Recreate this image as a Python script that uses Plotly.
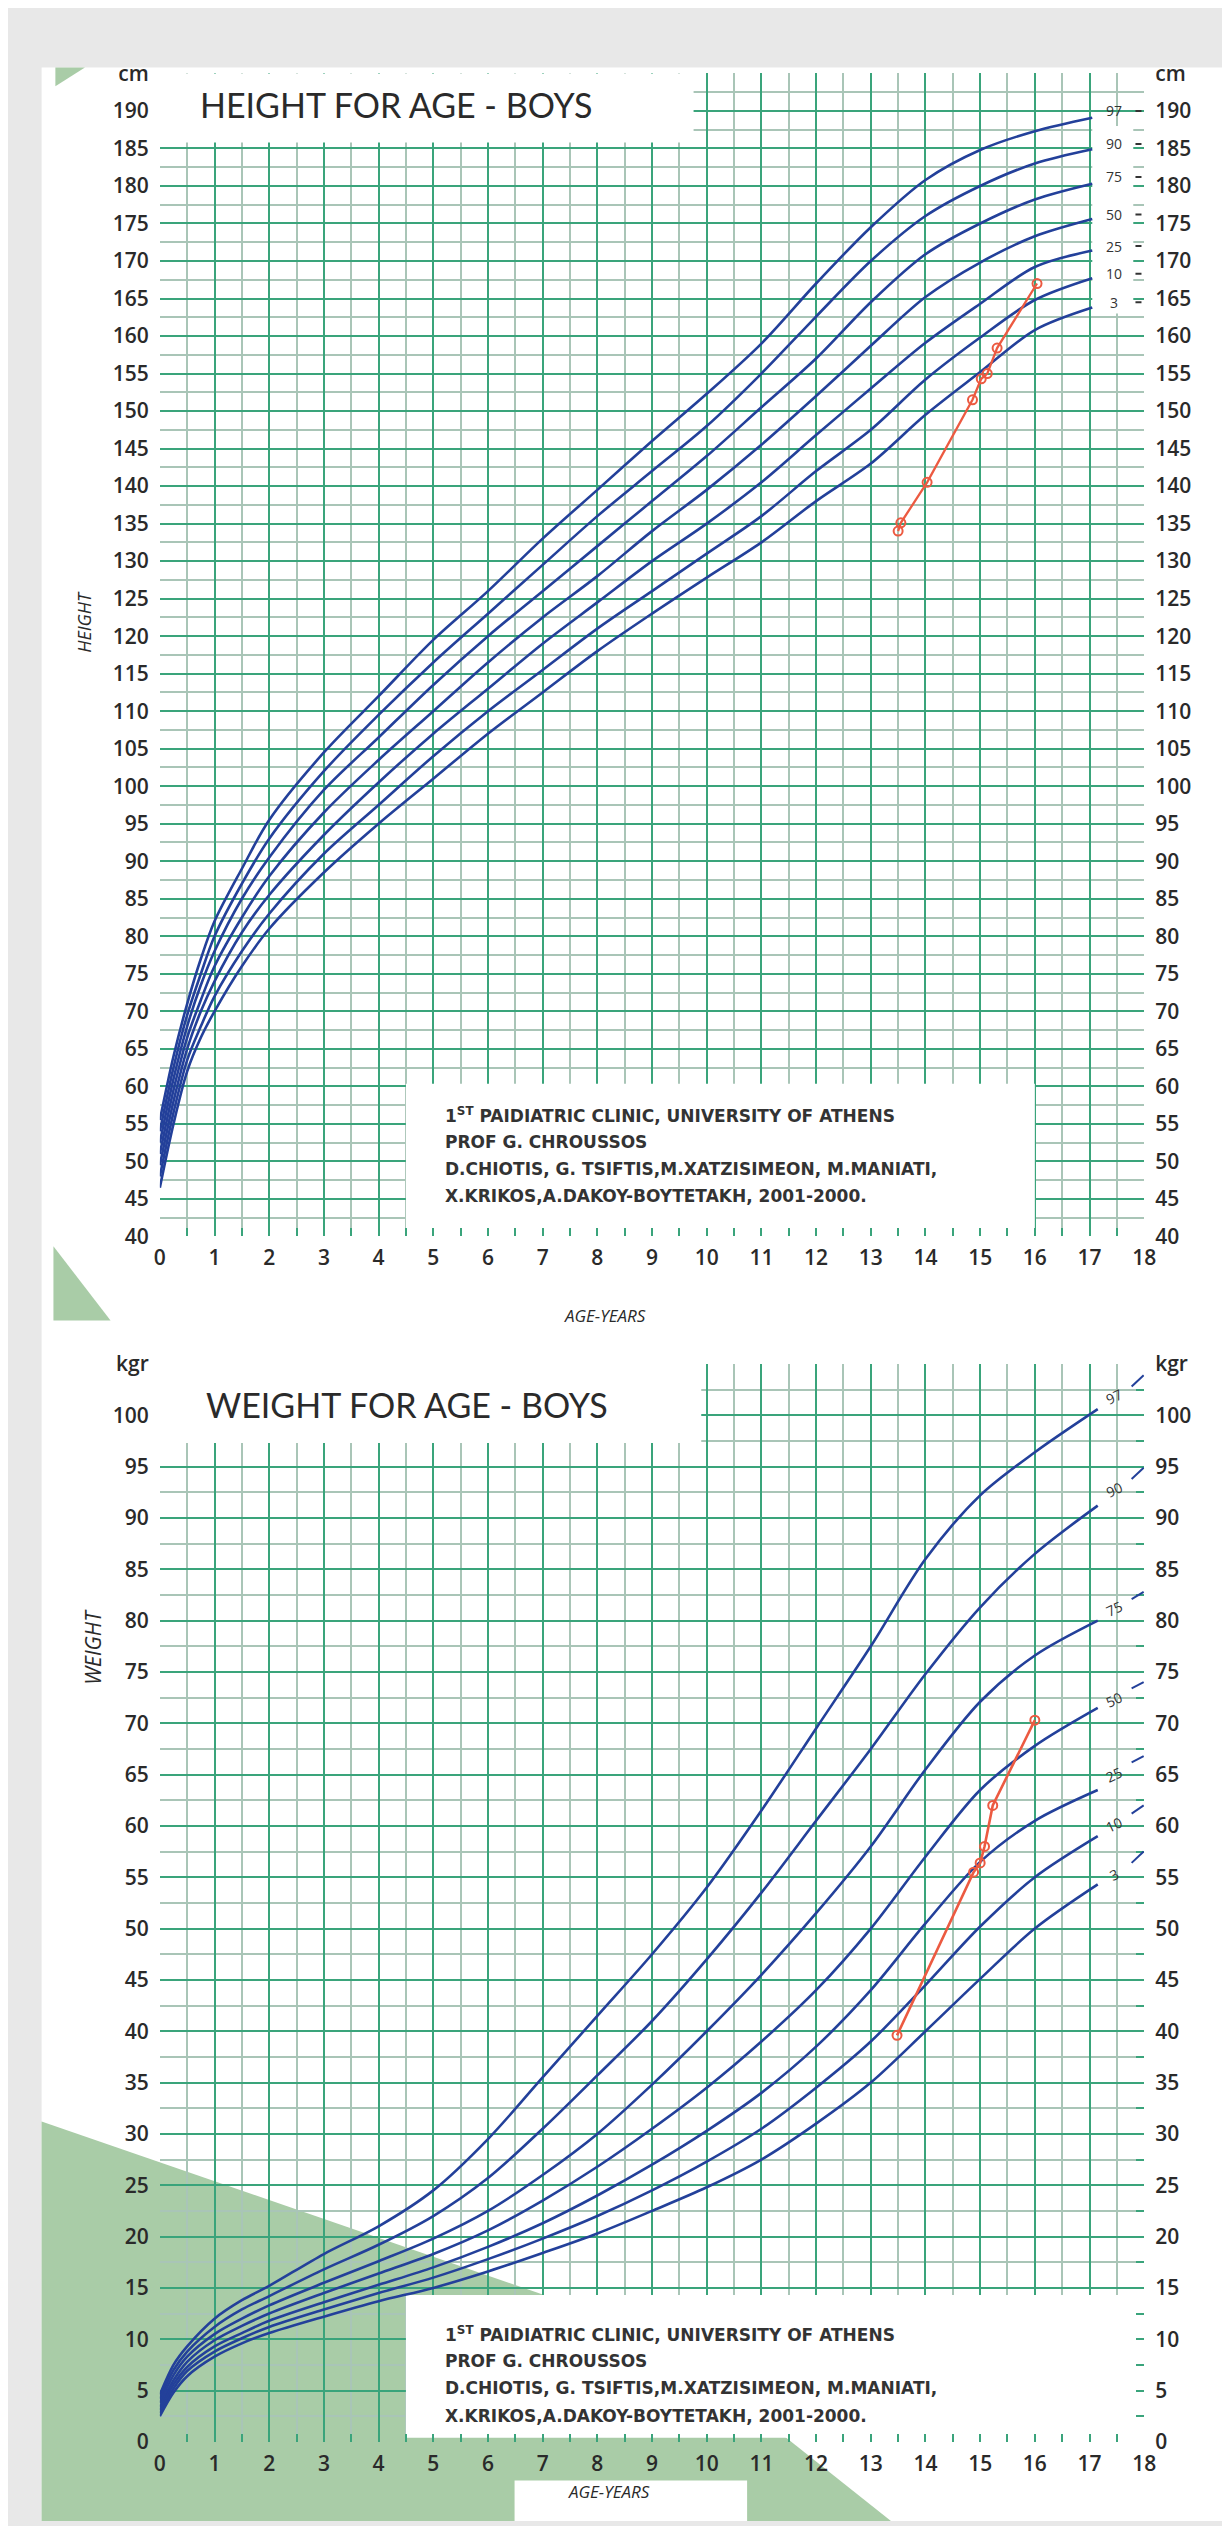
import plotly.graph_objects as go

W, H = 1230, 2526

# ---------------- DATA ----------------
age_ticks = list(range(0, 19))

# Height-for-age percentiles (cm)
age_h = [0, 0.25, 0.5, 0.75, 1, 1.5, 2, 3, 4, 5, 6, 7, 8, 9, 10, 11, 12, 13, 14, 15, 16, 17.05]
h_p97 = [55.5, 64.0, 71.0, 77.0, 82.0, 89.0, 95.5, 104.5, 112.0, 119.5, 126.0, 133.0, 139.5, 146.0, 152.3, 159.0, 167.0, 174.5, 180.8, 184.8, 187.3, 189.1]
h_p90 = [54.0, 62.5, 69.5, 75.0, 80.0, 87.0, 93.0, 102.0, 109.5, 116.5, 123.0, 129.5, 136.0, 142.0, 148.0, 155.0, 162.6, 170.0, 176.0, 180.0, 183.0, 184.9]
h_p75 = [52.5, 61.0, 68.0, 73.5, 78.0, 85.0, 90.5, 99.5, 106.5, 113.5, 120.0, 126.0, 132.0, 138.0, 144.0, 150.5, 157.0, 164.5, 170.9, 175.0, 178.2, 180.3]
h_p50 = [51.0, 59.5, 66.5, 71.5, 76.0, 82.5, 88.0, 96.5, 103.5, 110.0, 116.5, 122.5, 128.0, 134.0, 139.5, 145.5, 152.0, 158.7, 165.2, 169.8, 173.3, 175.6]
h_p25 = [49.5, 58.0, 65.0, 70.0, 74.0, 80.5, 85.5, 93.5, 100.5, 107.0, 113.0, 119.0, 124.5, 130.0, 135.0, 140.5, 146.8, 153.0, 159.1, 164.3, 169.2, 171.4]
h_p10 = [48.0, 56.5, 63.5, 68.0, 72.0, 78.0, 83.0, 91.0, 97.5, 104.0, 110.0, 115.5, 121.0, 126.0, 131.0, 136.0, 142.0, 147.5, 154.2, 159.8, 164.8, 167.7]
h_p3 = [46.5, 55.0, 62.0, 66.5, 70.0, 76.0, 81.0, 88.5, 95.0, 101.0, 107.0, 112.5, 118.0, 123.0, 127.8, 132.5, 138.0, 143.0, 149.5, 155.2, 160.8, 163.8]

# Weight-for-age percentiles (kg)
age_w = [0, 0.25, 0.5, 1, 1.5, 2, 3, 4, 5, 6, 7, 8, 9, 10, 11, 12, 13, 14, 15, 16, 17.15]
w_p97 = [4.6, 7.5, 9.3, 12.0, 13.8, 15.2, 18.3, 21.0, 24.5, 29.5, 35.5, 41.5, 47.5, 54.0, 61.5, 69.5, 77.5, 86.0, 92.2, 96.4, 100.6]
w_p90 = [4.2, 7.0, 8.8, 11.2, 12.9, 14.2, 16.8, 19.2, 22.0, 25.7, 30.5, 35.7, 41.0, 47.0, 53.5, 60.5, 67.5, 74.8, 81.3, 86.5, 91.2]
w_p75 = [3.8, 6.5, 8.3, 10.5, 12.0, 13.3, 15.5, 17.6, 19.8, 22.5, 26.0, 30.0, 34.8, 40.0, 45.5, 51.5, 58.0, 65.5, 72.1, 76.6, 80.0]
w_p50 = [3.4, 6.0, 7.8, 9.9, 11.3, 12.5, 14.5, 16.4, 18.3, 20.6, 23.5, 26.8, 30.5, 34.5, 39.0, 44.0, 50.0, 57.0, 63.5, 67.8, 71.5]
w_p25 = [3.1, 5.6, 7.3, 9.3, 10.6, 11.8, 13.6, 15.3, 17.0, 19.0, 21.3, 24.0, 27.0, 30.3, 34.0, 38.5, 44.0, 50.5, 56.5, 60.5, 63.5]
w_p10 = [2.8, 5.2, 6.9, 8.8, 10.1, 11.2, 12.9, 14.5, 16.0, 17.8, 19.8, 22.0, 24.5, 27.3, 30.5, 34.5, 39.0, 44.5, 50.2, 55.0, 59.0]
w_p3 = [2.5, 4.8, 6.4, 8.3, 9.6, 10.6, 12.2, 13.7, 15.0, 16.6, 18.4, 20.3, 22.5, 24.8, 27.5, 31.0, 35.0, 40.0, 45.1, 50.0, 54.3]

pct_labels = ["97", "90", "75", "50", "25", "10", "3"]

# Patient measurements
patient_age_h = [13.5, 13.55, 14.03, 14.86, 15.02, 15.13, 15.31, 16.04]
patient_height = [134.0, 135.1, 140.5, 151.5, 154.3, 155.0, 158.4, 167.0]
patient_age_w = [13.48, 14.88, 15.0, 15.08, 15.23, 16.0]
patient_weight = [39.6, 55.5, 56.4, 58.0, 62.0, 70.3]

# Tick labels
height_tickvals = list(range(40, 196, 5))
height_ticktext = [str(v) for v in range(40, 191, 5)] + ["cm"]
weight_tickvals = list(range(0, 106, 5))
weight_ticktext = [str(v) for v in range(0, 101, 5)] + ["kgr"]

# Percentile label placement
h_label_age = 17.45
h_label_y = [190.0, 185.6, 181.2, 176.2, 172.0, 168.3, 164.5]
w_label_age = 17.45
w_label_y = [101.8, 92.8, 81.2, 72.3, 65.0, 60.1, 55.3]
w_dash_age = [17.77, 17.99]
w_dash_start = [102.8, 93.8, 82.1, 73.4, 66.2, 61.2, 56.4]
w_dash_end = [103.9, 94.9, 82.8, 74.0, 66.8, 62.0, 57.5]

credit_lines = [
    "1<sup>ST</sup> PAIDIATRIC CLINIC, UNIVERSITY OF ATHENS",
    "PROF G. CHROUSSOS",
    "D.CHIOTIS, G. TSIFTIS,M.XATZISIMEON, M.MANIATI,",
    "X.KRIKOS,A.DAKOY-BOYTETAKH, 2001-2000.",
]

# ---------------- STYLE ----------------
GRID_MAJOR = "#3aa47b"
GRID_MINOR = "#a9c5b7"
CURVE = "#23409a"
PATIENT = "#ec5a41"
GREEN_BG = "#a9cca7"
TXT = "#2a2a2a"


def PX(x):
    return x / W


def PY(y):
    return 1 - y / H


fig = go.Figure()

h_series = [h_p97, h_p90, h_p75, h_p50, h_p25, h_p10, h_p3]
w_series = [w_p97, w_p90, w_p75, w_p50, w_p25, w_p10, w_p3]

for name, ys in zip(pct_labels, h_series):
    fig.add_trace(go.Scatter(x=age_h, y=ys, mode="lines", name="P" + name,
                             line=dict(color=CURVE, width=2.6, shape="spline", smoothing=0.9),
                             xaxis="x", yaxis="y", showlegend=False, hoverinfo="skip"))
fig.add_trace(go.Scatter(x=patient_age_h, y=patient_height, mode="lines+markers",
                         line=dict(color=PATIENT, width=2.3),
                         marker=dict(symbol="circle-open", size=9, color=PATIENT, line=dict(width=2)),
                         xaxis="x", yaxis="y", showlegend=False, hoverinfo="skip"))
fig.add_trace(go.Scatter(x=[None], y=[None], xaxis="x", yaxis="y2", showlegend=False, hoverinfo="skip"))

for name, ys in zip(pct_labels, w_series):
    fig.add_trace(go.Scatter(x=age_w, y=ys, mode="lines", name="W" + name,
                             line=dict(color=CURVE, width=2.6, shape="spline", smoothing=0.9),
                             xaxis="x2", yaxis="y3", showlegend=False, hoverinfo="skip"))
fig.add_trace(go.Scatter(x=patient_age_w, y=patient_weight, mode="lines+markers",
                         line=dict(color=PATIENT, width=2.6),
                         marker=dict(symbol="circle-open", size=9, color=PATIENT, line=dict(width=2)),
                         xaxis="x2", yaxis="y3", showlegend=False, hoverinfo="skip"))
fig.add_trace(go.Scatter(x=[None], y=[None], xaxis="x2", yaxis="y4", showlegend=False, hoverinfo="skip"))

tickfont = dict(family="Open Sans", size=21, color=TXT, weight=600)

xdom = [PX(148), PX(1147)]
ydom_top = [PY(1227), PY(51)]
ydom_bot = [PY(2446), PY(1356)]


def xaxis_cfg(anchor):
    return dict(domain=xdom, range=[0, 18], anchor=anchor, tickmode="array", tickvals=age_ticks,
                showgrid=True, gridcolor=GRID_MAJOR, gridwidth=2, zeroline=False, showline=False,
                ticks="inside", ticklen=8, tickwidth=1.5, tickcolor=GRID_MAJOR,
                minor=dict(dtick=0.5, tick0=0, showgrid=True, gridcolor=GRID_MINOR, gridwidth=2,
                           ticks="inside", ticklen=8, tickwidth=1.5, tickcolor=GRID_MAJOR),
                tickfont=tickfont, ticklabelstandoff=7, fixedrange=True)


def yaxis_cfg(dom, rng, vals, text, anchor):
    return dict(domain=dom, range=rng, anchor=anchor, tickmode="array", tickvals=vals, ticktext=text,
                showgrid=True, gridcolor=GRID_MAJOR, gridwidth=2, zeroline=False, showline=False,
                ticks="", minor=dict(dtick=2.5, tick0=0, showgrid=True, gridcolor=GRID_MINOR, gridwidth=2),
                tickfont=tickfont, ticklabelstandoff=10, fixedrange=True)


def yaxis_right(over, vals, text, anchor, ticks):
    d = dict(overlaying=over, matches=over, side="right", anchor=anchor, tickmode="array",
             tickvals=vals, ticktext=text, showgrid=False, zeroline=False, showline=False,
             tickfont=tickfont, ticklabelstandoff=10, fixedrange=True)
    if ticks:
        d.update(ticks="inside", ticklen=8, tickwidth=1.5, tickcolor=GRID_MAJOR,
                 minor=dict(dtick=2.5, tick0=0, ticks="inside", ticklen=8, tickwidth=1.5,
                            tickcolor=GRID_MAJOR, showgrid=False))
    else:
        d.update(ticks="")
    return d


fig.update_layout(
    width=W, height=H, margin=dict(l=0, r=0, t=0, b=0),
    paper_bgcolor="#e8e8e8", plot_bgcolor="rgba(0,0,0,0)",
    showlegend=False,
    xaxis=xaxis_cfg("y"),
    yaxis=yaxis_cfg(ydom_top, [40, 195], height_tickvals, height_ticktext, "x"),
    yaxis2=yaxis_right("y", height_tickvals, height_ticktext, "x", False),
    xaxis2=xaxis_cfg("y3"),
    yaxis3=yaxis_cfg(ydom_bot, [0, 105], weight_tickvals, weight_ticktext, "x2"),
    yaxis4=yaxis_right("y3", weight_tickvals, weight_ticktext, "x2", True),
)

shapes = []
# white page panel
shapes.append(dict(type="rect", xref="paper", yref="paper", x0=PX(28), x1=1, y0=0, y1=PY(45),
                   fillcolor="white", line=dict(width=0), layer="below"))
# decorative green triangles
shapes.append(dict(type="path", xref="paper", yref="paper",
                   path=f"M {PX(42)} {PY(45)} L {PX(72)} {PY(45)} L {PX(42)} {PY(64)} Z",
                   fillcolor=GREEN_BG, line=dict(width=0), layer="below"))
shapes.append(dict(type="path", xref="paper", yref="paper",
                   path=f"M {PX(40)} {PY(1237)} L {PX(40)} {PY(1312)} L {PX(98)} {PY(1312)} Z",
                   fillcolor=GREEN_BG, line=dict(width=0), layer="below"))
shapes.append(dict(type="path", xref="paper", yref="paper",
                   path=(f"M {PX(28)} {PY(2122)} L {PX(650)} {PY(2336)} L {PX(890)} {PY(2526)} "
                         f"L {PX(28)} {PY(2526)} Z"),
                   fillcolor=GREEN_BG, line=dict(width=0), layer="below"))
# white label box under bottom axis title
shapes.append(dict(type="rect", xref="paper", yref="paper", x0=PX(508), x1=PX(744), y0=0, y1=PY(2485),
                   fillcolor="white", line=dict(width=0), layer="below"))

# white boxes over the grid (between grid and curves)
for xr, yr, box in [("x", "y", (-0.5, 9.76, 185.8, 200)),
                    ("x", "y", (4.5, 16.0, 40.6, 60.35)),
                    ("x", "y", (17.05, 17.8, 163.0, 188.0)),
                    ("x2", "y3", (-0.5, 9.9, 97.3, 110)),
                    ("x2", "y3", (4.5, 17.9, 0.4, 14.3))]:
    shapes.append(dict(type="rect", xref=xr, yref=yr, x0=box[0], x1=box[1], y0=box[2], y1=box[3],
                       fillcolor="white", line=dict(width=0), layer="between"))

# percentile ticks (height) and curve extensions (weight)
for yv in h_label_y:
    shapes.append(dict(type="line", xref="x", yref="y", x0=17.84, x1=17.95, y0=yv, y1=yv,
                       line=dict(color="#333333", width=2)))
for ys, ye in zip(w_dash_start, w_dash_end):
    shapes.append(dict(type="line", xref="x2", yref="y3", x0=w_dash_age[0], x1=w_dash_age[1], y0=ys, y1=ye,
                       line=dict(color=CURVE, width=2)))

fig.update_layout(shapes=shapes)

ann = []
for lab, yv in zip(pct_labels, h_label_y):
    ann.append(dict(x=h_label_age, y=yv, xref="x", yref="y", text=lab, showarrow=False,
                    font=dict(family="Open Sans", size=14, color="#333")))
for lab, yv in zip(pct_labels, w_label_y):
    ann.append(dict(x=w_label_age, y=yv, xref="x2", yref="y3", text=lab, showarrow=False, textangle=-25,
                    font=dict(family="Open Sans", size=14, color="#333")))

# titles
ann.append(dict(x=PX(187), y=PY(82), xref="paper", yref="paper", xanchor="left", yanchor="middle",
                text="HEIGHT FOR AGE - BOYS", showarrow=False,
                font=dict(family="Lato", size=34, color=TXT)))
ann.append(dict(x=PX(193), y=PY(1397), xref="paper", yref="paper", xanchor="left", yanchor="middle",
                text="WEIGHT FOR AGE - BOYS", showarrow=False,
                font=dict(family="Lato", size=34, color=TXT)))

# axis titles
ital = dict(family="Open Sans", color=TXT, style="italic")
ann.append(dict(x=PX(56), y=PY(572), xref="paper", yref="paper", text="HEIGHT", textangle=-90,
                showarrow=False, font=dict(ital, size=18)))
ann.append(dict(x=PX(64), y=PY(1642), xref="paper", yref="paper", text="WEIGHT", textangle=-90,
                showarrow=False, font=dict(ital, size=21)))
ann.append(dict(x=PX(600), y=PY(1307), xref="paper", yref="paper", text="AGE-YEARS",
                showarrow=False, font=dict(ital, size=17)))
ann.append(dict(x=PX(604), y=PY(2510), xref="paper", yref="paper", text="AGE-YEARS",
                showarrow=False, font=dict(ital, size=17)))

# credits
for top_y in (1104, 2337):
    for i, line in enumerate(credit_lines):
        ann.append(dict(x=PX(435), y=PY(top_y + i * 27.5), xref="paper", yref="paper", xanchor="left",
                        yanchor="middle", text=line, showarrow=False,
                        font=dict(family="DejaVu Sans", size=17, color="#333", weight="bold")))

fig.update_layout(annotations=ann)

fig.write_html("out.html")
